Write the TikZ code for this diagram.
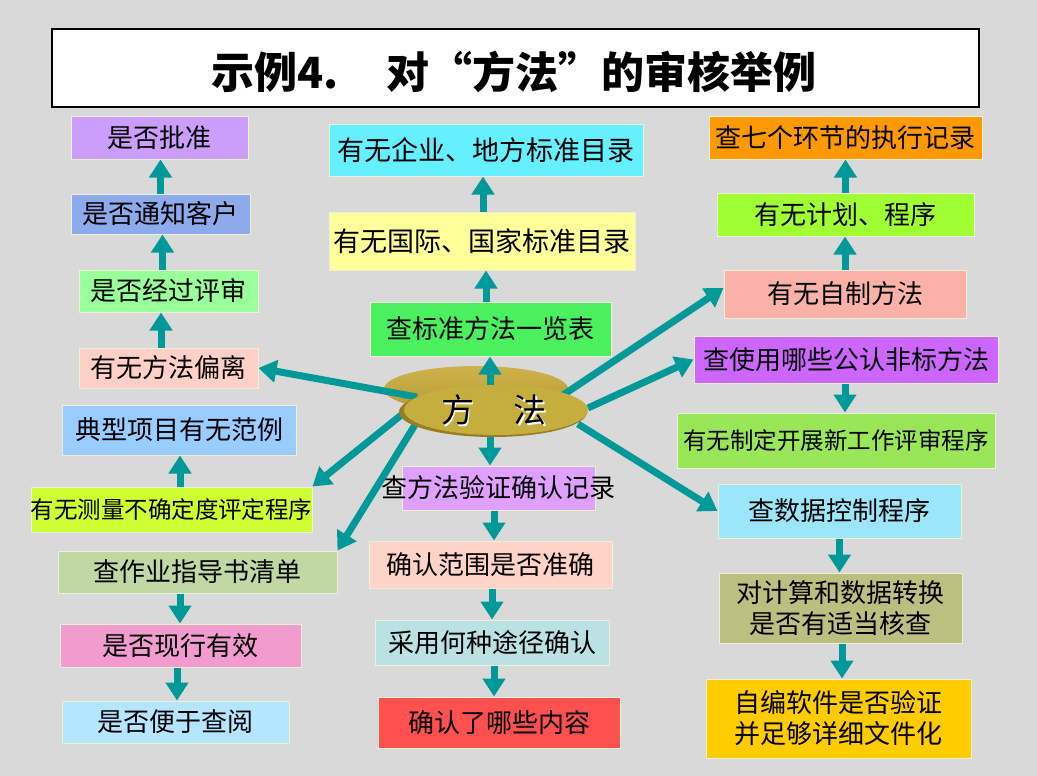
\documentclass[tikz,border=0pt]{standalone}
\usepackage{fontspec}
\setmainfont{Noto Sans CJK SC}
\usetikzlibrary{arrows.meta}
\definecolor{bg}{RGB}{217,217,217}
\definecolor{tealarr}{RGB}{0,153,153}
\definecolor{boxline}{RGB}{236,240,212}
\definecolor{cL1}{RGB}{204,158,252}
\definecolor{cL2}{RGB}{140,170,236}
\definecolor{cL3}{RGB}{153,255,153}
\definecolor{cL4}{RGB}{255,208,200}
\definecolor{cL5}{RGB}{153,204,255}
\definecolor{cL6}{RGB}{206,255,51}
\definecolor{cL7}{RGB}{191,216,164}
\definecolor{cL8}{RGB}{241,155,207}
\definecolor{cL9}{RGB}{180,230,255}
\definecolor{cC1}{RGB}{100,240,255}
\definecolor{cC2}{RGB}{255,255,153}
\definecolor{cC3}{RGB}{74,240,94}
\definecolor{cC4}{RGB}{224,160,255}
\definecolor{cC5}{RGB}{255,211,200}
\definecolor{cC6}{RGB}{187,226,226}
\definecolor{cC7}{RGB}{255,80,80}
\definecolor{cR1}{RGB}{255,153,0}
\definecolor{cR2}{RGB}{160,255,51}
\definecolor{cR3}{RGB}{250,178,168}
\definecolor{cR4}{RGB}{204,102,255}
\definecolor{cR5}{RGB}{153,230,88}
\definecolor{cR6}{RGB}{155,230,248}
\definecolor{cR7}{RGB}{187,191,128}
\definecolor{cR8}{RGB}{255,204,0}
\definecolor{discback}{RGB}{184,154,52}
\definecolor{discbackhi}{RGB}{206,178,74}
\definecolor{discfront}{RGB}{198,174,62}
\definecolor{discrim}{RGB}{150,126,38}
\tikzset{
  box/.style={draw=boxline, line width=1pt, inner sep=0pt, align=center,
    font=\fontsize{26}{31}\selectfont},
  arr/.style={draw=tealarr, line width=7pt, -{Triangle[width=22pt,length=18pt]}},
}
\begin{document}
\begin{tikzpicture}[x=1pt,y=-1pt]
\fill[bg] (0,0) rectangle (1037,776);
\useasboundingbox (0,0) rectangle (1037,776);
% title
\node[draw=black, line width=1.2pt, fill=white, minimum width=927pt, minimum height=78pt] (T) at (515.5,68) {};
\node[font=\fontsize{43}{46}\selectfont\bfseries] (TT) at (514,72) {示例4.\hspace{48pt}对“方法”的审核举例};
% left column
\node[box, fill=cL1, minimum width=177pt, minimum height=43pt] (L1) at (159.5,137.5) {是否批准};
\node[box, fill=cL2, minimum width=179pt, minimum height=40pt] (L2) at (160.5,214) {是否通知客户};
\node[box, fill=cL3, minimum width=179pt, minimum height=42pt] (L3) at (168.5,291) {是否经过评审};
\node[box, fill=cL4, minimum width=179pt, minimum height=40pt] (L4) at (168.5,368) {有无方法偏离};
\node[box, fill=cL5, minimum width=234pt, minimum height=50pt] (L5) at (179,430) {典型项目有无范例};
\node[box, fill=cL6, minimum width=281pt, minimum height=45pt, font=\fontsize{23.5}{28}\selectfont] (L6) at (171.5,509.5) {\makebox[281pt][c]{有无测量不确定度评定程序}};
\node[box, fill=cL7, minimum width=279pt, minimum height=42pt] (L7) at (197.5,572) {查作业指导书清单};
\node[box, fill=cL8, minimum width=241pt, minimum height=43pt] (L8) at (180.5,645.5) {是否现行有效};
\node[box, fill=cL9, minimum width=227pt, minimum height=42pt] (L9) at (175.5,722) {是否便于查阅};
% centre column
\node[box, fill=cC1, minimum width=314pt, minimum height=52pt, font=\fontsize{27}{32}\selectfont] (C1) at (486,150) {有无企业、地方标准目录};
\node[box, fill=cC2, minimum width=306pt, minimum height=58pt, font=\fontsize{27}{32}\selectfont] (C2) at (482,241) {有无国际、国家标准目录};
\node[box, fill=cC3, minimum width=241pt, minimum height=54pt] (C3) at (490.5,329) {查标准方法一览表};
\node[box, fill=cC4, minimum width=193pt, minimum height=44pt] (C4) at (498.5,488) {\makebox[193pt][c]{查方法验证确认记录}};
\node[box, fill=cC5, minimum width=243pt, minimum height=47pt] (C5) at (490.5,564.5) {确认范围是否准确};
\node[box, fill=cC6, minimum width=234pt, minimum height=45pt] (C6) at (492,642.5) {采用何种途径确认};
\node[box, fill=cC7, minimum width=242pt, minimum height=51pt] (C7) at (499,722.5) {确认了哪些内容};
% right column
\node[box, fill=cR1, minimum width=273pt, minimum height=43pt] (R1) at (845.5,137.5) {查七个环节的执行记录};
\node[box, fill=cR2, minimum width=257pt, minimum height=43pt] (R2) at (845.5,214.5) {有无计划、程序};
\node[box, fill=cR3, minimum width=242pt, minimum height=48pt] (R3) at (845,294) {有无自制方法};
\node[box, fill=cR4, minimum width=304pt, minimum height=47pt] (R4) at (846,359.5) {查使用哪些公认非标方法};
\node[box, fill=cR5, minimum width=318pt, minimum height=55pt, font=\fontsize{23.5}{28}\selectfont] (R5) at (836,440.5) {有无制定开展新工作评审程序};
\node[box, fill=cR6, minimum width=243pt, minimum height=54pt] (R6) at (839.5,511) {查数据控制程序};
\node[box, fill=cR7, minimum width=243pt, minimum height=70pt] (R7) at (840.5,608) {对计算和数据转换\\是否有适当核查};
\node[box, fill=cR8, minimum width=265pt, minimum height=79pt] (R8) at (838.5,718.5) {自编软件是否验证\\并足够详细文件化};
% column arrows
\draw[arr] ([xshift=-7.5pt]L4.north) -- ([xshift=-7.5pt]L4.north |- L3.south);
\draw[arr] ([xshift=-6pt]L3.north) -- ([xshift=-6pt]L3.north |- L2.south);
\draw[arr] (L2.north) -- (L2.north |- L1.south);
\draw[arr] ([xshift=8.5pt]L6.north) -- ([xshift=8.5pt]L6.north |- L5.south);
\draw[arr] ([xshift=-17.5pt]L7.south) -- ([xshift=-17.5pt]L7.south |- L8.north);
\draw[arr] ([xshift=-3.5pt]L8.south) -- ([xshift=-3.5pt]L8.south |- L9.north);
\draw[arr] ([xshift=-4.5pt]C3.north) -- ([xshift=-4.5pt]C3.north |- C2.south);
\draw[arr] ([xshift=1pt]C2.north) -- ([xshift=1pt]C2.north |- C1.south);
\draw[arr] ([xshift=-4.5pt]C4.south) -- ([xshift=-4.5pt]C4.south |- C5.north);
\draw[arr] ([xshift=1.5pt]C5.south) -- ([xshift=1.5pt]C5.south |- C6.north);
\draw[arr] ([xshift=2pt]C6.south) -- ([xshift=2pt]C6.south |- C7.north);
\draw[arr] (R3.north) -- (R3.north |- R2.south);
\draw[arr] (R2.north) -- (R2.north |- R1.south);
\draw[arr] ([xshift=-1pt]R4.south) -- ([xshift=-1pt]R4.south |- R5.north);
\draw[arr] (R6.south) -- (R6.south |- R7.north);
\draw[arr] ([xshift=1.5pt]R7.south) -- ([xshift=1.5pt]R7.south |- R8.north);
% central disc (back)
\shade[top color=discbackhi, bottom color=discback] (476,389) ellipse [x radius=92pt, y radius=23pt];
% radial arrows
\coordinate (tL4) at (417,397);
\coordinate (tL6) at (405,412);
\coordinate (tL7) at (418,420);
\coordinate (tC3) at (490,390);
\coordinate (tC4) at (490,430);
\coordinate (tR3) at (563,395);
\coordinate (tR4) at (588,408);
\coordinate (tR6) at (578,424);
\draw[arr] (tL4) -- (L4.east);
\draw[arr] (tL6) -- (L6.north east);
\draw[arr] (tL7) -- (L7.north east);
\draw[arr] (tC3) -- (tC3 |- C3.south);
\draw[arr] (tC4) -- (tC4 |- C4.north);
\draw[arr] (tR3) -- ([yshift=6pt]R3.west);
\draw[arr] (tR4) -- (R4.west);
\draw[arr] (tR6) -- (R6.west);
% central disc (front)
\fill[discrim] (493,412) ellipse [x radius=94pt, y radius=25pt];
\fill[discfront] (496,410) ellipse [x radius=92pt, y radius=25pt];
\node[white, font=\fontsize{33}{36}\selectfont] (Ms) at (495.5,411.5) {方\hspace{40pt}法};
\node[black, font=\fontsize{33}{36}\selectfont] (M) at (494,410) {方\hspace{40pt}法};
\end{tikzpicture}
\end{document}
